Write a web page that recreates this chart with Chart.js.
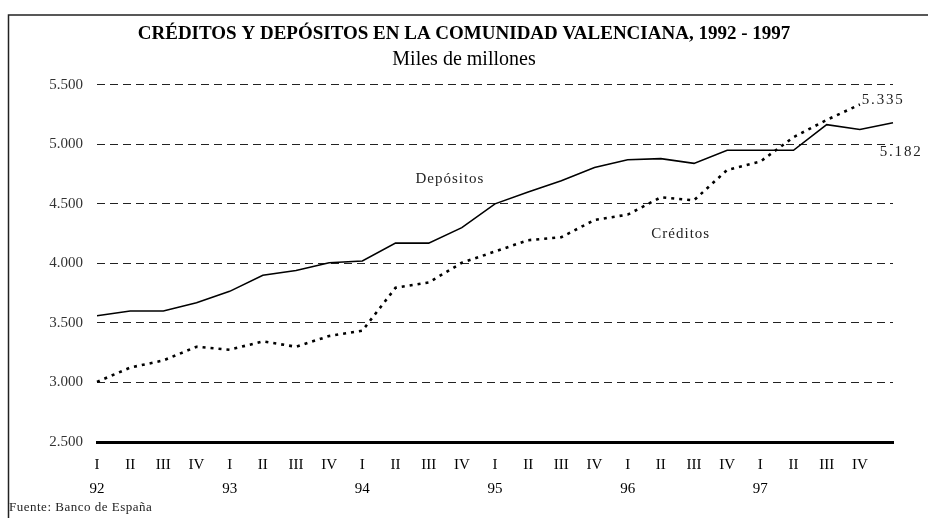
<!DOCTYPE html>
<html lang="es">
<head>
<meta charset="utf-8">
<title>Créditos y depósitos en la Comunidad Valenciana, 1992 - 1997</title>
<script src="https://cdn.jsdelivr.net/npm/chart.js@4.4.1/dist/chart.umd.min.js"></script>
<style>
  html, body { margin: 0; padding: 0; background: #fff; }
  #wrap { position: relative; width: 928px; height: 518px; }
</style>
</head>
<body>
<div id="wrap"><canvas id="chart" width="928" height="518"></canvas></div>
<script>
// trimestres 1992-1997 (el último punto de depósitos no lleva etiqueta)
const quarters = ['I','II','III','IV','I','II','III','IV','I','II','III','IV',
                  'I','II','III','IV','I','II','III','IV','I','II','III','IV',''];
const years = ['92','','','','93','','','','94','','','','95','','','','96','','','','97','','','',''];

const depositos = [3560, 3600, 3600, 3670, 3765, 3900, 3940, 4005, 4020, 4170, 4170, 4300,
                   4500, 4600, 4695, 4805, 4870, 4880, 4840, 4950, 4950, 4950, 5165, 5125, 5182];
const creditos  = [3005, 3125, 3185, 3300, 3275, 3345, 3300, 3390, 3435, 3795, 3840, 4005,
                   4100, 4195, 4220, 4365, 4410, 4555, 4530, 4785, 4855, 5060, 5205, 5335, null];

const yMin = 2500, yMax = 5500, yStep = 500;

const serif = 'Liberation Serif, Times New Roman, serif';

function fmtMiles(v) {
  return String(v).replace(/\B(?=(\d{3})+(?!\d))/g, '.');
}

// rótulos dentro del gráfico, anclados a las escalas
const notes = [
  { text: 'Depósitos', idx: 10.64, val: 4710, align: 'center', sp: '1px' },
  { text: 'Créditos',  idx: 17.6,  val: 4248, align: 'center', sp: '1px' },
  { text: fmtMiles(5335), idx: 23.06, val: 5374, align: 'left', sp: '1.8px' },
  { text: fmtMiles(5182), idx: 23.6,  val: 4937, align: 'left', sp: '1.8px' }
];

const extras = {
  id: 'extras',
  afterDraw(chart) {
    const { ctx, scales: { x, y } } = chart;
    ctx.save();
    ctx.fillStyle = '#222';
    ctx.font = '15px ' + serif;
    ctx.textBaseline = 'middle';
    notes.forEach(n => {
      ctx.textAlign = n.align;
      ctx.letterSpacing = n.sp;
      ctx.fillText(n.text, x.getPixelForValue(n.idx), y.getPixelForValue(n.val));
    });
    ctx.textAlign = 'left';
    ctx.letterSpacing = '0.5px';
    ctx.font = '13px ' + serif;
    ctx.fillText('Fuente: Banco de España', 9, 508);
    ctx.letterSpacing = '0px';
    // marco
    ctx.strokeStyle = '#222';
    ctx.lineWidth = 1.5;
    ctx.beginPath();
    ctx.moveTo(8.5, 518);
    ctx.lineTo(8.5, 15);
    ctx.lineTo(928, 15);
    ctx.stroke();
    ctx.restore();
  }
};

new Chart(document.getElementById('chart'), {
  type: 'line',
  data: {
    labels: quarters.map((q, i) => [q, years[i]]),
    datasets: [
      {
        label: 'Depósitos',
        data: depositos,
        borderColor: '#000',
        borderWidth: 1.6,
        pointRadius: 0,
        tension: 0
      },
      {
        label: 'Créditos',
        data: creditos,
        borderColor: '#000',
        borderWidth: 2.6,
        borderDash: [3, 5],
        pointRadius: 0,
        tension: 0
      }
    ]
  },
  options: {
    responsive: false,
    animation: false,
    layout: { padding: 0 },
    plugins: {
      legend: { display: false },
      tooltip: { enabled: false },
      title: {
        display: true,
        text: 'CRÉDITOS Y DEPÓSITOS EN LA COMUNIDAD VALENCIANA, 1992 - 1997',
        color: '#000',
        font: { family: serif, size: 19, weight: 'bold' },
        padding: { top: 23, bottom: 2 }
      },
      subtitle: {
        display: true,
        text: 'Miles de millones',
        color: '#000',
        font: { family: serif, size: 20 },
        padding: { top: 0, bottom: 13 }
      }
    },
    scales: {
      x: {
        grid: { display: false, drawTicks: false },
        border: { display: true, width: 3, color: '#000' },
        ticks: {
          autoSkip: false,
          maxRotation: 0,
          padding: 11,
          color: '#000',
          font: { family: serif, size: 15, lineHeight: 1.6 }
        },
        afterFit(scale) { scale.height = 76; }
      },
      y: {
        min: yMin,
        max: yMax,
        grid: {
          color: '#222',
          lineWidth: c => (c.tick && c.tick.value === yMin ? 0 : 1),
          drawTicks: false
        },
        border: { display: false, dash: [8, 5] },
        ticks: {
          stepSize: yStep,
          padding: 14,
          color: '#333',
          font: { family: serif, size: 15 },
          callback: v => fmtMiles(v)
        },
        afterFit(scale) { scale.width = 97; }
      },
      // margen derecho vacío, para que el título quede centrado en la página
      margen: {
        position: 'right',
        display: true,
        grid: { display: false },
        border: { display: false },
        ticks: { display: false },
        afterFit(scale) { scale.width = 35; }
      }
    }
  },
  plugins: [extras]
});
</script>
</body>
</html>
